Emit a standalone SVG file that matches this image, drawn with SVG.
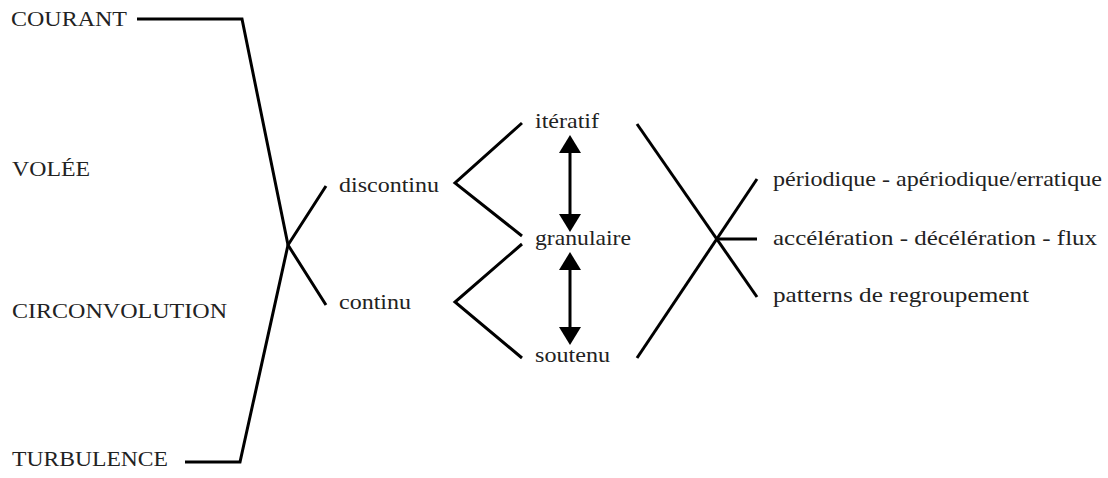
<svg xmlns="http://www.w3.org/2000/svg" width="1108" height="478" viewBox="0 0 1108 478">
<style>
.t{font-family:'Liberation Serif','Times New Roman',serif;font-size:22px;fill:#222}
.c{fill:none;stroke:#000;stroke-width:3;stroke-linejoin:miter}
</style>
<defs>
<marker id="ah" viewBox="0 0 18 22" refX="13" refY="11" markerWidth="18" markerHeight="22" markerUnits="userSpaceOnUse" orient="auto-start-reverse">
<path d="M0,0 L18,11 L0,22 z" fill="#000"/>
</marker>
</defs>
<rect width="1108" height="478" fill="#fff"/>
<g id="connectors">
<polyline class="c" points="137,19 242,19 288,245 326,305"/>
<polyline class="c" points="185,462 240,462 288,245 326,186"/>
<polyline class="c" points="522,123 455,183 522,236"/>
<polyline class="c" points="522,244 455,302 522,358"/>
<line class="c" x1="570" y1="140" x2="570" y2="227" marker-start="url(#ah)" marker-end="url(#ah)"/>
<line class="c" x1="570" y1="257" x2="570" y2="340" marker-start="url(#ah)" marker-end="url(#ah)"/>
<line class="c" x1="637" y1="124" x2="757" y2="297"/>
<line class="c" x1="637" y1="358" x2="757" y2="179"/>
<line class="c" x1="717" y1="239" x2="757" y2="239"/>
</g>
<g id="courant"><text class="t" x="11" y="26" textLength="116" lengthAdjust="spacingAndGlyphs">COURANT</text></g>
<g id="volee"><text class="t" x="12" y="176" textLength="78" lengthAdjust="spacingAndGlyphs">VOLÉE</text></g>
<g id="circonvolution"><text class="t" x="12" y="318" textLength="215" lengthAdjust="spacingAndGlyphs">CIRCONVOLUTION</text></g>
<g id="turbulence"><text class="t" x="12" y="466" textLength="156" lengthAdjust="spacingAndGlyphs">TURBULENCE</text></g>
<g id="discontinu"><text class="t" x="339" y="192" textLength="100" lengthAdjust="spacingAndGlyphs">discontinu</text></g>
<g id="continu"><text class="t" x="339" y="309" textLength="72" lengthAdjust="spacingAndGlyphs">continu</text></g>
<g id="iteratif"><text class="t" x="535" y="128" textLength="64" lengthAdjust="spacingAndGlyphs">itératif</text></g>
<g id="granulaire"><text class="t" x="535" y="245" textLength="96" lengthAdjust="spacingAndGlyphs">granulaire</text></g>
<g id="soutenu"><text class="t" x="535" y="362" textLength="75" lengthAdjust="spacingAndGlyphs">soutenu</text></g>
<g id="periodique"><text class="t" x="773" y="186" textLength="329" lengthAdjust="spacingAndGlyphs">périodique - apériodique/erratique</text></g>
<g id="acceleration"><text class="t" x="773" y="245" textLength="324" lengthAdjust="spacingAndGlyphs">accélération - décélération - flux</text></g>
<g id="patterns"><text class="t" x="773" y="302" textLength="256" lengthAdjust="spacingAndGlyphs">patterns de regroupement</text></g>
</svg>
